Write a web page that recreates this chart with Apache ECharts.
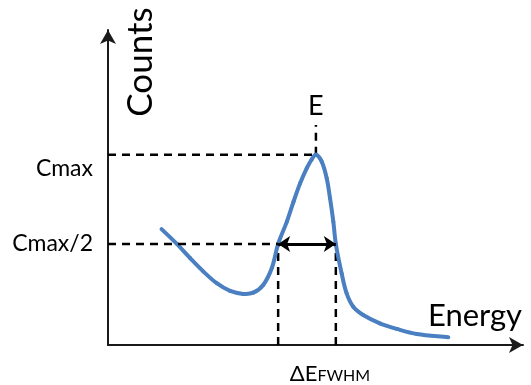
<!DOCTYPE html>
<html>
<head>
<meta charset="utf-8">
<script src="https://cdn.jsdelivr.net/npm/echarts@6/dist/echarts.min.js"></script>
<style>
  html, body { margin: 0; padding: 0; background: #fff; }
  #chart { width: 531px; height: 385px; }
</style>
</head>
<body>
<div id="chart"></div>
<script>
// Spectrum sample: energy (arbitrary units) and counts
const energy = [12.9, 16.6, 19.8, 23.0, 26.2, 29.4, 32.6, 35.0, 37.4, 39.5, 41.0, 43.1, 44.7, 46.3, 47.9, 49.1, 50.1, 51.5, 52.7, 53.5, 54.3, 54.9, 56.3, 57.5, 59.1, 61.5, 65.5, 69.6, 74.4, 82.0];
const counts = [35.0, 30.0, 25.2, 20.7, 16.8, 14.2, 13.2, 13.6, 16.2, 22.0, 30.0, 37.5, 44.2, 50.4, 55.5, 58.5, 60.0, 57.7, 52.1, 45.4, 37.5, 30.0, 20.1, 13.4, 8.9, 6.1, 3.3, 1.4, -0.3, -1.4];

// Peak characteristics
const CMAX = 60;
const HALF = CMAX / 2;
const E_PEAK = 50.1;
const FWHM_LO = 41.0;
const FWHM_HI = 54.9;
const E_MARK_TOP = 70;

// Axis ranges
const X_MIN = 0, X_MAX = 100;
const Y_MIN = -4, Y_MAX = 102;

// Text
const yTickLabels = { [HALF]: 'Cmax/2', [CMAX]: 'Cmax' };
const peakLabel = 'E';
const widthLabel = ['ΔE', 'FWHM'];
const xTitle = 'Energy';
const yTitle = 'Counts';

const FONT = 'Lato, "Open Sans", sans-serif';
const CURVE_COLOR = '#4a7fc1';
const dashStyle = { color: '#000', width: 2.5, type: [8, 6] };

function guide(points, extra) {
  return Object.assign({
    type: 'line',
    data: points,
    symbol: 'none',
    silent: true,
    lineStyle: dashStyle,
    z: 1
  }, extra || {});
}

// Smooth spectrum curve: cubic segments through every sample, with
// control points set from neighbouring samples (no bounding-box clamp).
function renderSpectrum(params, api) {
  if (params.dataIndex !== 0) return null;
  const pts = energy.map((e, i) => api.coord([e, counts[i]]));
  const s = 0.35;
  const n = pts.length;
  const dist = (a, b) => Math.hypot(b[0] - a[0], b[1] - a[1]);
  const children = [];
  for (let i = 0; i < n - 1; i++) {
    const p0 = pts[Math.max(i - 1, 0)], p1 = pts[i], p2 = pts[i + 1], p3 = pts[Math.min(i + 2, n - 1)];
    const d01 = dist(p0, p1), d12 = dist(p1, p2), d23 = dist(p2, p3);
    const r1 = d12 / (d01 + d12);
    const r2 = d12 / (d12 + d23);
    children.push({
      type: 'bezierCurve',
      shape: {
        x1: p1[0], y1: p1[1], x2: p2[0], y2: p2[1],
        cpx1: p1[0] + (p2[0] - p0[0]) * s * r1,
        cpy1: p1[1] + (p2[1] - p0[1]) * s * r1,
        cpx2: p2[0] - (p3[0] - p1[0]) * s * r2,
        cpy2: p2[1] - (p3[1] - p1[1]) * s * r2
      },
      style: { stroke: CURVE_COLOR, lineWidth: 4, fill: null, lineCap: 'round' }
    });
  }
  return { type: 'group', children };
}

const chart = echarts.init(document.getElementById('chart'), null, { renderer: 'canvas' });

chart.setOption({
  animation: false,
  backgroundColor: '#fff',
  textStyle: { fontFamily: FONT },
  grid: { left: 108, right: 8, top: 30, bottom: 40 },
  xAxis: {
    type: 'value',
    min: X_MIN, max: X_MAX,
    splitLine: { show: false },
    axisTick: { show: false },
    axisLine: {
      onZero: false,
      lineStyle: { color: '#1a1a1a', width: 2 },
      symbol: ['none', 'arrow'],
      symbolSize: [12, 14]
    },
    axisLabel: {
      customValues: [(FWHM_LO + FWHM_HI) / 2],
      formatter: () => '{d|' + widthLabel[0] + '}{s|' + widthLabel[1] + '}',
      margin: 18,
      padding: [0, 0, 0, 46],
      rich: {
        d: { fontSize: 22, color: '#000', fontFamily: FONT },
        s: { fontSize: 16, color: '#000', fontFamily: FONT, padding: [3, 0, 0, 0] }
      }
    }
  },
  yAxis: {
    type: 'value',
    min: Y_MIN, max: Y_MAX,
    splitLine: { show: false },
    axisTick: { show: false },
    axisLine: {
      onZero: false,
      lineStyle: { color: '#1a1a1a', width: 2 },
      symbol: ['none', 'arrow'],
      symbolSize: [12, 14]
    },
    axisLabel: {
      customValues: [HALF, CMAX],
      margin: 15,
      formatter: v => (v === CMAX ? '{low|' : '{n|') + yTickLabels[v] + '}',
      rich: {
        n: { fontSize: 23, color: '#000', fontFamily: FONT },
        low: { fontSize: 23, color: '#000', fontFamily: FONT, padding: [28, 0, 0, 0] }
      }
    }
  },
  graphic: [
    {
      type: 'text',
      x: 141, y: 62,
      rotation: Math.PI / 2,
      style: { text: yTitle, fontSize: 35, fontFamily: FONT, fill: '#000', align: 'center', verticalAlign: 'middle' }
    },
    {
      type: 'text',
      x: 475, y: 316,
      style: { text: xTitle, fontSize: 31, fontFamily: FONT, fill: '#000', align: 'center', verticalAlign: 'middle' }
    }
  ],
  series: [
    guide([[X_MIN, CMAX], [E_PEAK, CMAX]]),
    guide([[E_PEAK, CMAX], {
      value: [E_PEAK, E_MARK_TOP],
      symbol: 'circle',
      symbolSize: 2,
      itemStyle: { color: 'rgba(0,0,0,0)' },
      label: { show: true, position: 'top', distance: 4, formatter: peakLabel, fontSize: 27, color: '#000', fontFamily: FONT }
    }]),
    guide([[X_MIN, HALF], [FWHM_LO, HALF]], {
      markLine: {
        silent: true,
        symbol: ['arrow', 'arrow'],
        symbolSize: [12, 12],
        label: { show: false },
        lineStyle: { color: '#000', width: 3, type: 'solid' },
        data: [[{ coord: [FWHM_LO, HALF] }, { coord: [FWHM_HI, HALF] }]]
      },
      z: 4
    }),
    guide([[FWHM_LO, Y_MIN], [FWHM_LO, HALF]]),
    guide([[FWHM_HI, Y_MIN], [FWHM_HI, HALF]]),
    {
      type: 'custom',
      data: energy.map((e, i) => [e, counts[i]]),
      encode: { x: 0, y: 1 },
      renderItem: renderSpectrum,
      silent: true,
      clip: false,
      z: 3
    }
  ]
});
</script>
</body>
</html>
